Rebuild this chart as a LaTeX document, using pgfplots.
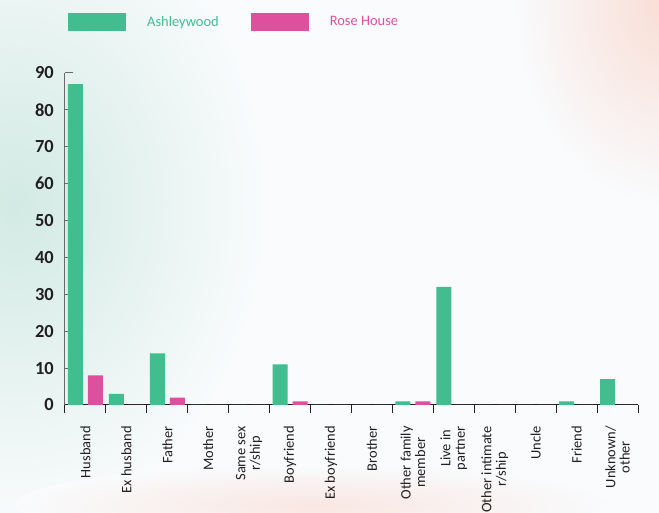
\documentclass[border=0pt]{standalone}
\usepackage{fontspec}
\setmainfont{Carlito}
\usepackage{pgfplots}
\pgfplotsset{compat=1.18}
\definecolor{ashgreen}{RGB}{66,189,143}
\definecolor{rosepink}{RGB}{222,79,158}
\definecolor{bgcol}{RGB}{249,251,253}
\definecolor{txt}{RGB}{35,31,32}
\definecolor{ygray}{RGB}{105,105,108}
\definecolor{blobgreen}{RGB}{210,234,227}
\definecolor{blobpink}{RGB}{249,222,214}
\begin{document}
\begin{tikzpicture}[x=1bp,y=1bp]
\useasboundingbox (-65,-108) rectangle (594,405);
\fill[bgcol] (-65,-108) rectangle (594,405);
\shade[inner color=blobgreen, outer color=bgcol] (-50,200) ellipse (250 and 320);
\shade[inner color=blobpink, outer color=bgcol] (600,400) ellipse (150 and 200);
\shade[inner color=blobpink!70!bgcol, outer color=bgcol] (250,-100) ellipse (300 and 40);
\begin{axis}[
  scale only axis, width=573bp, height=332bp,
  xmin=-0.5, xmax=13.5, ymin=0, ymax=90,
  axis lines*=left,
  x axis line style={txt, line width=1bp},
  y axis line style={ygray, line width=1bp},
  tick align=inside,
  major tick length=8bp, minor tick length=8bp,
  ytick={0,10,...,90},
  ytick style={ygray, line width=1bp},
  xtick={0,...,13},
  major x tick style={draw=none},
  minor xtick={-0.5,0.5,...,13.5},
  minor x tick style={txt, line width=1bp},
  xticklabels={Husband, Ex husband, Father, Mother, {Same sex\\r/ship}, Boyfriend, Ex boyfriend, Brother, {Other family\\member}, {Live in\\partner}, {Other intimate\\r/ship}, Uncle, Friend, {Unknown/\\other}},
  xticklabel style={rotate=90, anchor=east, align=center, inner sep=0pt, text=txt, font=\fontsize{14.5}{14.5}\selectfont},
  xticklabel shift=13bp,
  /pgf/number format/assume math mode=true,
  yticklabel style={inner sep=0pt, xshift=-11bp, text=txt, font=\bfseries\fontsize{18.5}{20}\selectfont},
  ybar,
  legend image code/.code={\fill[#1] (0bp,-9bp) rectangle (58bp,9bp);},
  legend columns=-1,
  legend style={at={(axis description cs:0.0052,1.1536)}, anchor=west, draw=none, fill=none, inner sep=0pt,
    nodes={inner sep=0pt, font=\fontsize{14.5}{16}\selectfont},
    /tikz/every odd column/.append style={column sep=21bp},
    /tikz/every even column/.append style={column sep=32bp}},
]
\addplot[fill=ashgreen, draw=none, bar width=15bp, bar shift=-10bp] coordinates {
(0,87) (1,3) (2,14) (3,0) (4,0) (5,11) (6,0) (7,0) (8,1) (9,32) (10,0) (11,0) (12,1) (13,7)};
\addplot[fill=rosepink, draw=none, bar width=15bp, bar shift=10bp] coordinates {
(0,8) (1,0) (2,2) (3,0) (4,0) (5,1) (6,0) (7,0) (8,1) (9,0) (10,0) (11,0) (12,0) (13,0)};
\legend{\textcolor{ashgreen}{Ashleywood}, \textcolor{rosepink}{Rose House}}
\end{axis}
\end{tikzpicture}
\end{document}
